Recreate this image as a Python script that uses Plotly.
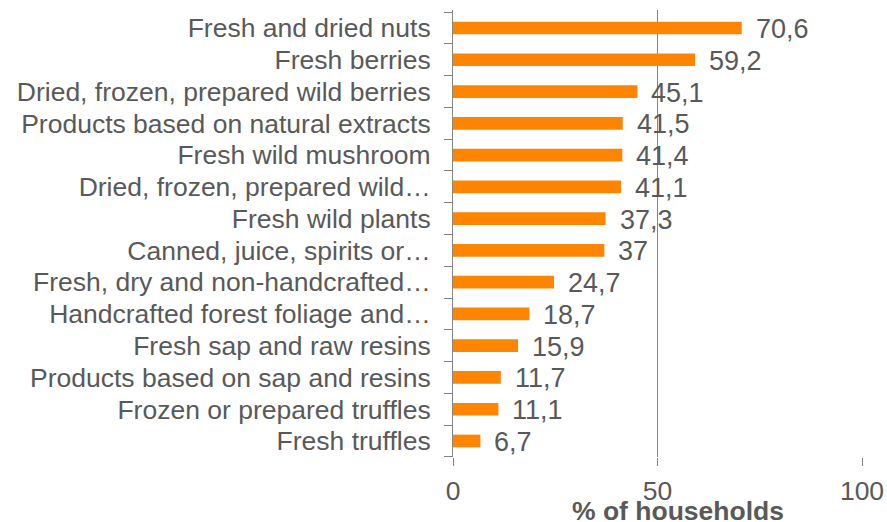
import plotly.graph_objects as go

categories = [
    "Fresh and dried nuts",
    "Fresh berries",
    "Dried, frozen, prepared wild berries",
    "Products based on natural extracts",
    "Fresh wild mushroom",
    "Dried, frozen, prepared wild…",
    "Fresh wild plants",
    "Canned, juice, spirits or…",
    "Fresh, dry and non-handcrafted…",
    "Handcrafted forest foliage and…",
    "Fresh sap and raw resins",
    "Products based on sap and resins",
    "Frozen or prepared truffles",
    "Fresh truffles",
]
values = [70.6, 59.2, 45.1, 41.5, 41.4, 41.1, 37.3, 37, 24.7, 18.7, 15.9, 11.7, 11.1, 6.7]
x_ticks = [0, 50, 100]
x_title = "% of households"

def fmt(v):
    s = ("%g" % v)
    return s.replace(".", ",")

FONT = "Liberation Sans, Arial, sans-serif"
TXT = "#595959"
GRID = "#868686"
FS = 26.5

fig = go.Figure()
fig.add_trace(go.Bar(
    x=values, y=categories, orientation="h",
    marker=dict(color="#FF8400", line=dict(width=0)),
    hoverinfo="x+y",
))

for c, v in zip(categories, values):
    fig.add_annotation(
        x=v, y=c, text=fmt(v), showarrow=False,
        xanchor="left", yanchor="middle", xshift=12, yshift=-1,
        font=dict(family=FONT, size=27, color=TXT),
    )

# axis title as annotation below tick labels
fig.add_annotation(
    x=0.55, y=0, xref="paper", yref="paper", text="<b>" + x_title + "</b>",
    showarrow=False, xanchor="center", yanchor="middle", yshift=-54,
    font=dict(family=FONT, size=FS, color=TXT),
)

fig.update_layout(
    width=887, height=522,
    margin=dict(l=453, r=25, t=10, b=65, autoexpand=False),
    paper_bgcolor="white", plot_bgcolor="white",
    bargap=0.6,
    showlegend=False,
    font=dict(family=FONT, size=FS, color=TXT),
)
fig.update_xaxes(
    range=[0, 100], tickvals=x_ticks, ticktext=[str(t) for t in x_ticks],
    showgrid=True, gridcolor=GRID, gridwidth=1,
    zeroline=False, showline=False, automargin=False,
    ticks="outside", ticklen=8, tickcolor=GRID, tickwidth=1,
    ticklabelstandoff=2,
    tickfont=dict(family=FONT, size=FS, color=TXT),
)
fig.update_yaxes(
    autorange="reversed", automargin=False,
    tickmode="array", tickvals=categories, ticktext=categories,
    showline=True, linecolor=GRID, linewidth=1,
    ticks="outside", ticklen=8, tickcolor=GRID, tickwidth=1,
    tickson="boundaries",
    showgrid=False, zeroline=False,
    ticklabelstandoff=16,
    tickfont=dict(family=FONT, size=FS, color=TXT),
)

fig.write_html(
    "out.html",
    config={"displayModeBar": False},
    post_script="document.body.style.margin='0';document.body.style.overflow='hidden';",
)
